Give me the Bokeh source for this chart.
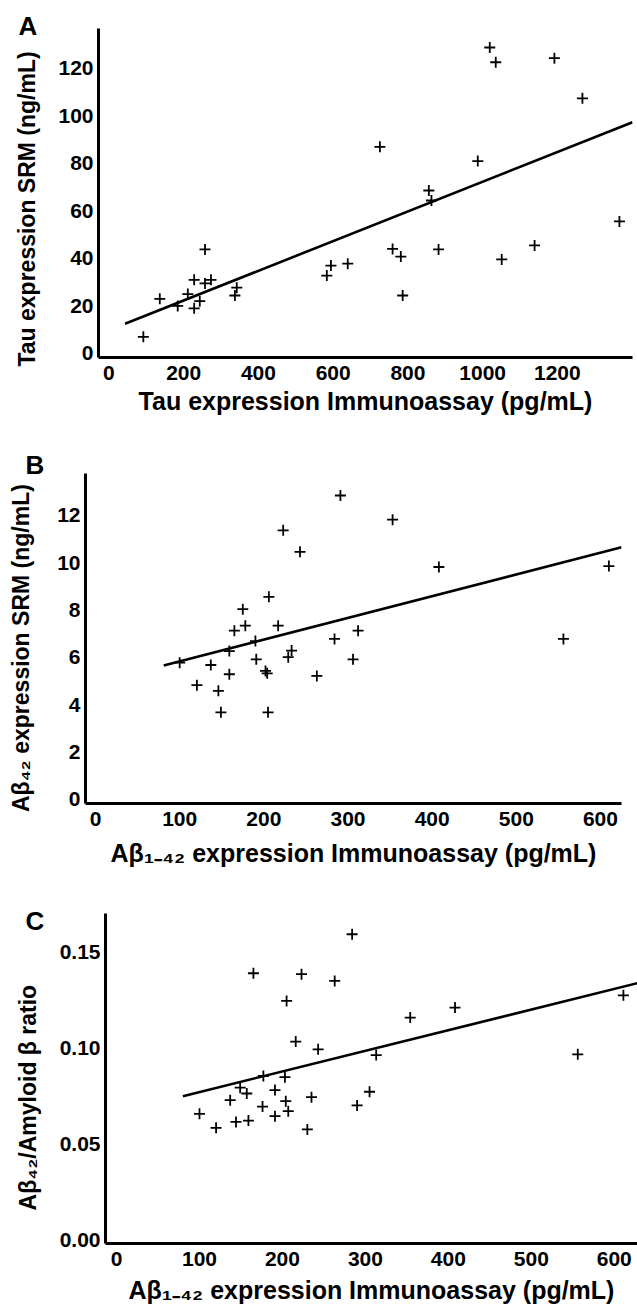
import numpy as np
from bokeh.plotting import figure
from bokeh.models import Range1d, FixedTicker, PrintfTickFormatter, Title
from bokeh.embed import file_html
from bokeh.resources import INLINE

FONT = "Liberation Sans"
NBSP = "\u00a0"

# ---------------- data ----------------
# Panel A: Tau
tau_immuno = [92, 136, 184, 211, 228, 228, 243, 257, 257, 273, 337, 342, 583, 594, 639,
              725, 759, 781, 786, 856, 863, 882, 987, 1019, 1035, 1051, 1139, 1192, 1267, 1366]
tau_srm = [7, 23, 20, 25, 31, 19, 22, 43.8, 29.5, 31, 24.4, 27.7, 32.8, 37, 37.8,
           87, 44, 40.8, 24.4, 68.6, 64.4, 43.8, 81, 128.8, 122.6, 39.6, 45.5, 124.3, 107.4, 55.6]
tau_fit_slope = 0.0625
tau_fit_intercept = 9.8
tau_fit_x = [43, 1401]

# Panel B: Abeta42
ab_immuno_b = [100, 120.5, 137, 146, 149, 159, 159, 165, 175, 178, 190, 191, 202, 204, 205,
               206, 217, 223, 229, 233, 243, 263, 284, 291, 306, 312, 353, 408, 556, 610]
ab_srm = [5.78, 4.83, 5.68, 4.59, 3.68, 6.27, 5.29, 7.13, 8.04, 7.34, 6.69, 5.92, 5.43, 5.33, 3.68,
          8.56, 7.34, 11.37, 6.01, 6.29, 10.46, 5.22, 6.78, 12.84, 5.92, 7.13, 11.82, 9.82, 6.78, 9.86]
ab_fit_slope = 0.00917
ab_fit_intercept = 4.92
ab_fit_x = [81, 625]

# Panel C: ratio
ab_immuno_c = [100, 120, 137, 144, 149, 157, 159, 165, 176, 177, 191, 191, 203, 204, 205,
               207, 216, 223, 230, 235, 243, 263, 284, 290, 305, 313, 354, 408, 556, 611]
ab_ratio = [0.0655, 0.0582, 0.0726, 0.0613, 0.0791, 0.0761, 0.0620, 0.1387, 0.0693, 0.0852,
            0.0779, 0.0643, 0.0846, 0.0721, 0.1243, 0.0669, 0.1031, 0.1382, 0.0574, 0.0742,
            0.0991, 0.1347, 0.1590, 0.0699, 0.0770, 0.0961, 0.1156, 0.1208, 0.0965, 0.1272]
ratio_fit_slope = 0.0001074
ratio_fit_intercept = 0.0661
ratio_fit_x = [80, 628]

a_xticks = [0, 200, 400, 600, 800, 1000, 1200]
a_yticks = [0, 20, 40, 60, 80, 100, 120]
b_xticks = [0, 100, 200, 300, 400, 500, 600]
b_yticks = [0, 2, 4, 6, 8, 10, 12]
c_xticks = [0, 100, 200, 300, 400, 500, 600]
c_yticks = [0.0, 0.05, 0.10, 0.15]


def make_panel(xs, ys, fit_x, slope, intercept, xr, yr, xticks, yticks,
               xlabel, ylabel, letter, letter_offset, letter_standoff, height,
               b_left, b_right, b_top, b_bottom, y_standoff, x_standoff,
               yfmt=None, x_line_height=None):
    p = figure(width=637, height=height, output_backend="svg", toolbar_location=None,
               x_range=Range1d(*xr), y_range=Range1d(*yr),
               min_border_left=b_left, min_border_right=b_right,
               min_border_top=b_top, min_border_bottom=b_bottom)
    p.outline_line_color = None
    p.grid.visible = False
    p.background_fill_color = "white"
    p.border_fill_color = "white"

    for ax in (p.xaxis[0], p.yaxis[0]):
        ax.axis_line_width = 3
        ax.axis_line_color = "black"
        ax.major_tick_line_color = None
        ax.minor_tick_line_color = None
        ax.major_tick_out = 0
        ax.major_tick_in = 0
        ax.major_label_text_font = FONT
        ax.major_label_text_font_size = "21px"
        ax.major_label_text_font_style = "bold"
        ax.major_label_text_color = "black"
        ax.axis_label_text_font = FONT
        ax.axis_label_text_font_style = "bold"
        ax.axis_label_text_color = "black"

    p.xaxis.ticker = FixedTicker(ticks=xticks)
    p.yaxis.ticker = FixedTicker(ticks=yticks)
    if yfmt:
        p.yaxis.formatter = PrintfTickFormatter(format=yfmt)
    p.xaxis.axis_label = xlabel
    p.yaxis.axis_label = ylabel
    p.xaxis.axis_label_text_font_size = "25px"
    p.yaxis.axis_label_text_font_size = "23px"
    p.xaxis.major_label_standoff = 8
    p.xaxis.axis_label_standoff = x_standoff
    p.yaxis.major_label_standoff = 5
    p.yaxis.axis_label_standoff = y_standoff
    if x_line_height is not None:
        p.xaxis.axis_label_text_line_height = x_line_height
        p.xaxis.major_label_text_line_height = x_line_height

    fx = np.array(fit_x, dtype=float)
    p.line(fx, intercept + slope * fx, line_color="black", line_width=2.6)
    p.scatter(xs, ys, marker="cross", size=11, line_color="black", line_width=1.8)

    p.add_layout(Title(text=letter, align="left", offset=letter_offset,
                       standoff=letter_standoff, text_font=FONT, text_font_size="26px",
                       text_font_style="bold", text_color="black"), "above")
    return p


pA = make_panel(tau_immuno, tau_srm, tau_fit_x, tau_fit_slope, tau_fit_intercept,
                (-28, 1401), (-1.7, 136.8), a_xticks, a_yticks,
                "Tau expression Immunoassay (pg/mL)", "Tau expression SRM (ng/mL)" + NBSP * 5,
                "A", -80, -24, 444, 98, 5, 28, 87, 15, 4)

pB = make_panel(ab_immuno_b, ab_srm, ab_fit_x, ab_fit_slope, ab_fit_intercept,
                (-11.9, 625), (-0.17, 13.77), b_xticks, b_yticks,
                "Aβ₁₋₄₂ expression Immunoassay (pg/mL)", "Aβ₄₂ expression SRM (ng/mL)" + NBSP * 3,
                "B", -60, -12, 444, 85, 16, 29, 85, 20, 10)

pC = make_panel(ab_immuno_c, ab_ratio, ratio_fit_x, ratio_fit_slope, ratio_fit_intercept,
                (-13.3, 628), (-0.002, 0.1698), c_xticks, c_yticks,
                "Aβ₁₋₄₂ expression Immunoassay (pg/mL)", "Aβ₄₂/Amyloid β ratio" + NBSP * 6,
                "C", -80, -44, 421, 105, 0, 25, 66, 16, 7, yfmt="%.2f", x_line_height=0.85)

open("out.html", "w").write(file_html([pA, pB, pC], INLINE))
